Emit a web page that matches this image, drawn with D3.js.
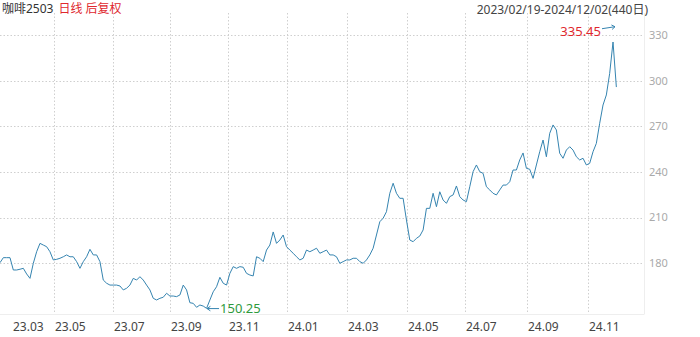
<!DOCTYPE html>
<html><head><meta charset="utf-8">
<script src="https://cdn.jsdelivr.net/npm/d3@7/dist/d3.min.js"></script>
<style>
html,body{margin:0;padding:0;background:#fff;}
svg{display:block;font-family:"Noto Sans","Noto Sans CJK SC",sans-serif;}
</style></head>
<body><svg id="c" width="700" height="337"></svg>
<script>
// close prices (sampled along the series)
const values = [
180.4,183.7,183.7,183.7,175.6,175.6,176.1,176.7,173.0,170.1,
180.0,187.6,193.1,192.0,190.9,187.6,182.2,182.6,183.3,184.3,
185.5,184.3,184.3,181.1,176.7,181.1,184.3,189.2,185.5,185.5,
181.1,169.0,166.9,165.7,165.7,165.7,165.1,162.5,163.6,165.7,
170.1,169.0,171.2,169.0,165.7,162.5,157.0,155.9,157.0,157.7,
160.3,158.5,158.5,158.1,159.2,165.7,162.5,154.1,153.7,151.1,
152.6,151.9,150.4,155.9,161.3,164.6,170.8,166.9,165.7,173.4,
177.8,176.7,177.8,177.4,173.4,172.3,171.7,184.3,183.3,181.1,
188.7,192.0,200.6,193.1,195.3,198.6,190.9,188.7,186.6,184.3,
182.2,183.3,188.7,187.6,188.7,189.9,186.6,187.6,188.7,185.5,
185.5,184.3,180.0,181.1,182.2,182.2,183.3,183.3,181.1,180.0,
182.2,185.5,189.9,198.6,207.3,209.6,213.9,226.0,232.6,226.0,
222.7,222.7,208.4,195.3,194.2,196.4,197.9,201.9,216.1,216.1,
226.0,217.2,227.0,221.6,219.4,223.8,224.9,230.8,223.8,221.6,
220.5,230.3,240.2,244.6,240.2,239.1,230.3,228.2,226.0,224.9,
228.2,231.4,231.4,233.6,241.3,241.3,247.9,252.5,242.4,241.8,
235.8,244.6,253.3,261.0,250.0,265.4,270.9,267.6,252.3,249.0,
254.4,256.6,254.4,250.0,247.9,249.0,244.6,245.7,253.3,258.8,
272.0,284.0,290.6,304.8,325.4,295.8
];
const tickLabels = ["23.03","23.05","23.07","23.09","23.11","24.01","24.03","24.05","24.07","24.09","24.11"];
const tickIndex = [3.6,16.2,33.9,51.1,68.4,86.1,104.1,122.1,139.5,158.1,176.4];
const yTicks = [180,210,240,270,300,330];
const highValue = 335.45, lowValue = 150.25;
const highIndex = 184, lowIndex = 62;
const titleName = "咖啡2503", titleTag = "日线 后复权", rangeText = "2023/02/19-2024/12/02(440日)";

const svg = d3.select("#c");
const x = d3.scaleLinear().domain([0, 193]).range([0, 643]);
const y = d3.scaleLinear().domain([180, 330]).range([263.3, 35]);
const plotTop = 13, plotBottom = 314, plotRight = 643;

// horizontal grid
svg.append("g").selectAll("line").data(yTicks).join("line")
  .attr("x1", 0).attr("x2", plotRight).attr("y1", d => Math.round(y(d)) + 0.5).attr("y2", d => Math.round(y(d)) + 0.5)
  .attr("stroke", "#cfcfcf").attr("stroke-dasharray", "1.5,2");
// vertical grid (first tick has no line)
svg.append("g").selectAll("line").data(tickIndex.slice(1)).join("line")
  .attr("x1", d => Math.round(x(d)) + 0.5).attr("x2", d => Math.round(x(d)) + 0.5)
  .attr("y1", plotTop).attr("y2", plotBottom)
  .attr("stroke", "#cfcfcf").attr("stroke-dasharray", "1.5,2");
// frame
svg.append("line").attr("x1", plotRight + 1.5).attr("x2", plotRight + 1.5).attr("y1", plotTop).attr("y2", plotBottom)
  .attr("stroke", "#eeeeee");
svg.append("line").attr("x1", 0).attr("x2", plotRight + 1.5).attr("y1", plotBottom + 0.5).attr("y2", plotBottom + 0.5)
  .attr("stroke", "#eeeeee");

// y labels
svg.append("g").selectAll("text").data(yTicks).join("text")
  .attr("x", 649).attr("y", d => y(d)).attr("dy", "0.35em")
  .attr("font-size", 11).attr("fill", "#aaaaaa").text(d => d);
// x labels
svg.append("g").selectAll("text").data(tickIndex).join("text")
  .attr("x", d => Math.round(x(d)) + 1).attr("y", 331)
  .attr("font-size", 12).attr("fill", "#444").text((d, i) => tickLabels[i]);

// line
const line = d3.line().x((d, i) => x(i)).y(d => y(d));
svg.append("path").datum(values).attr("d", line)
  .attr("fill", "none").attr("stroke", "#3584b0").attr("stroke-width", 1)
  .attr("stroke-linejoin", "round");

function arrow(x1, y1, x2, y2, color) {
  svg.append("line").attr("x1", x1).attr("y1", y1).attr("x2", x2).attr("y2", y2)
    .attr("stroke", color).attr("stroke-width", 1);
  const a = Math.atan2(y2 - y1, x2 - x1), L = 4;
  [0.6, -0.6].forEach(t => {
    svg.append("line").attr("x1", x2).attr("y1", y2)
      .attr("x2", x2 - L * Math.cos(a + t)).attr("y2", y2 - L * Math.sin(a + t))
      .attr("stroke", color).attr("stroke-width", 1);
  });
}
// high annotation
const hx = x(highIndex) + 2, hy = y(highValue);
arrow(hx - 13, hy + 2, hx, hy, "#3584b0");
svg.append("text").attr("x", hx - 14).attr("y", hy + 5).attr("dy", "0.35em")
  .attr("text-anchor", "end").attr("font-size", 13).attr("fill", "#e0282e").text(highValue.toFixed(2));
// low annotation
const lx = x(lowIndex) + 0.5, ly = y(lowValue);
arrow(lx + 12, ly, lx, ly, "#3584b0");
svg.append("text").attr("x", lx + 13).attr("y", ly).attr("dy", "0.35em")
  .attr("font-size", 13).attr("fill", "#2e9a3c").text(lowValue.toFixed(2));

// titles
const tt = svg.append("text").attr("x", 2).attr("y", 13).attr("font-size", 12);
tt.append("tspan").attr("fill", "#333").text(titleName);
tt.append("tspan").attr("fill", "#e0282e").attr("dx", 5).text(titleTag);
svg.append("text").attr("x", 648).attr("y", 14).attr("text-anchor", "end")
  .attr("font-size", 12).attr("fill", "#444").text(rangeText);
</script></body></html>
